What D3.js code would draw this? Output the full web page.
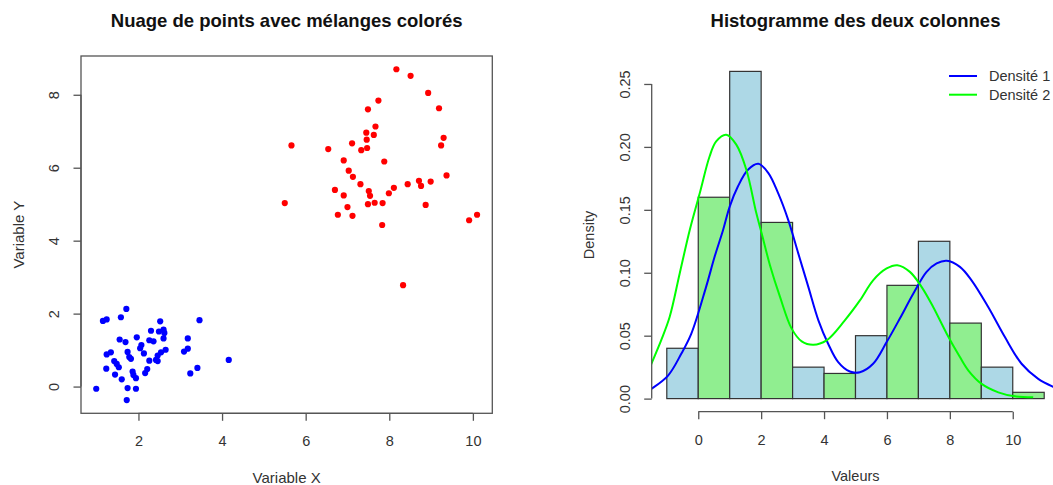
<!DOCTYPE html>
<html><head><meta charset="utf-8">
<script src="https://cdn.jsdelivr.net/npm/d3@7"></script>
<style>
html,body{margin:0;padding:0;background:#fff;}
svg{display:block;font-family:"Liberation Sans",Arial,sans-serif;}
</style>
</head><body>
<svg id="chart" width="1053" height="485"></svg>
<script>
// ---------- Data: scatter ----------
const blueX = [0.99,1.15,1.24,1.71,1.58,2.52,3.46,2.30,2.49,2.60,2.62,2.60,1.96,1.55,1.69,2.26,2.36,2.07,2.04,3.18,3.18,3.09,2.65,2.54,2.46,2.13,1.74,1.34,1.24,1.78,1.82,1.42,1.48,1.53,2.26,2.42,2.46,4.16,1.23,2.21,2.16,1.44,1.86,1.88,1.94,1.60,3.41,3.24,1.74,1.94,1.72];
const blueY = [-0.06,1.80,1.84,2.13,1.90,1.79,1.82,1.53,1.51,1.56,1.47,1.32,1.35,1.29,1.22,1.27,1.24,1.14,1.05,1.32,1.04,0.96,1.01,0.94,0.85,0.91,0.95,0.94,0.88,0.81,0.76,0.70,0.62,0.53,0.71,0.73,0.70,0.73,0.49,0.48,0.37,0.33,0.41,0.32,0.23,0.20,0.51,0.36,-0.04,-0.06,-0.37];
const redX = [8.17,8.51,8.93,7.74,7.49,9.19,7.67,7.45,7.63,7.46,5.66,7.11,9.30,9.24,6.54,7.33,7.47,6.91,7.88,7.03,7.13,9.37,7.31,8.44,8.71,8.76,8.99,8.11,7.99,6.70,7.51,7.54,6.91,7.49,7.65,7.84,5.50,8.87,7.00,6.77,7.12,10.10,9.91,7.83,8.33];
const redY = [8.70,8.52,8.05,7.84,7.60,7.63,7.13,6.96,6.90,6.77,6.61,6.67,6.82,6.61,6.51,6.48,6.54,6.20,6.17,5.92,5.75,5.79,5.55,5.55,5.64,5.50,5.62,5.45,5.30,5.39,5.36,5.23,5.24,5.00,5.04,5.03,5.03,4.98,4.92,4.71,4.68,4.71,4.56,4.43,2.78];
const scatterXTicks = [2,4,6,8,10];
const scatterYTicks = [0,2,4,6,8];

// ---------- Data: histogram ----------
const binStart = [-1,0,1,2,3,4,5,6,7,8,9,10];
const binDensity = [0.04,0.16,0.26,0.14,0.025,0.02,0.05,0.09,0.125,0.06,0.025,0.005];
const binSeries = [1,2,1,2,1,2,1,2,1,2,1,2];
const histXTicks = [0,2,4,6,8,10];
const histYTicks = [0,0.05,0.10,0.15,0.20,0.25];
const histYTickLabels = ["0.00","0.05","0.10","0.15","0.20","0.25"];

const dens1X = [-1.60,-1.49,-0.96,-0.54,-0.22,0.25,0.52,0.79,1.00,1.26,1.58,1.91,2.23,2.54,2.86,3.18,3.50,3.82,4.13,4.45,4.82,5.14,5.56,5.99,6.41,6.84,7.26,7.58,7.90,8.32,8.69,9.22,9.75,10.28,10.81,11.27,11.60];
const dens1Y = [0.0060,0.0077,0.0183,0.0356,0.0516,0.0888,0.1127,0.1340,0.1526,0.1685,0.1818,0.1866,0.1792,0.1632,0.1420,0.1154,0.0888,0.0622,0.0436,0.0290,0.0215,0.0210,0.0277,0.0449,0.0636,0.0835,0.1007,0.1074,0.1095,0.1047,0.0940,0.0728,0.0489,0.0277,0.0157,0.0096,0.0065];
const dens2X = [-1.60,-1.49,-1.18,-0.91,-0.59,-0.27,0.045,0.36,0.57,0.89,1.21,1.53,1.84,2.02,2.28,2.60,2.97,3.29,3.66,4.08,4.66,5.14,5.56,5.99,6.33,6.73,7.10,7.47,7.90,8.32,8.59,9.01,9.54,10.07,10.65];
const dens2Y = [0.0210,0.0277,0.0463,0.0648,0.0994,0.1340,0.1630,0.1924,0.2044,0.2097,0.2018,0.1818,0.1480,0.1310,0.1060,0.0808,0.0556,0.0455,0.0428,0.0463,0.0622,0.0780,0.0940,0.1034,0.1060,0.1007,0.0888,0.0728,0.0516,0.0330,0.0223,0.0117,0.0050,0.0018,0.0010];

const legendLabels = ["Densité 1","Densité 2"];
const legendColors = ["#0000ff","#00ff00"];

// ---------- Drawing ----------
const svg = d3.select("#chart");
const FS = 14.5;
const TFS = 18.5;
const txt = "#333";

function pad(ext){ const r = ext[1]-ext[0]; return [ext[0]-0.04*r, ext[1]+0.04*r]; }

// ===== Left: scatter =====
const L = {x0:81, x1:492.3, y0:56, y1:413.3};
const allX = blueX.concat(redX), allY = blueY.concat(redY);
const sx = d3.scaleLinear().domain(pad(d3.extent(allX))).range([L.x0, L.x1]);
const sy = d3.scaleLinear().domain(pad(d3.extent(allY))).range([L.y1, L.y0]);

const gL = svg.append("g");
const ptsB = blueX.map((x,i)=>({x, y:blueY[i]}));
const ptsR = redX.map((x,i)=>({x, y:redY[i]}));
gL.selectAll("circle.b").data(ptsB).join("circle").attr("class","b")
  .attr("cx",d=>sx(d.x)).attr("cy",d=>sy(d.y)).attr("r",3.1).attr("fill","#0000ff");
gL.selectAll("circle.r").data(ptsR).join("circle").attr("class","r")
  .attr("cx",d=>sx(d.x)).attr("cy",d=>sy(d.y)).attr("r",3.1).attr("fill","#ff0000");
gL.append("rect").attr("x",L.x0).attr("y",L.y0).attr("width",L.x1-L.x0).attr("height",L.y1-L.y0)
  .attr("fill","none").attr("stroke","#555").attr("stroke-width",1.3);

// x axis
const axL = gL.append("g").attr("transform",`translate(0,${L.y1})`)
  .call(d3.axisBottom(sx).tickValues(scatterXTicks).tickSize(7.5).tickSizeOuter(0).tickFormat(d3.format("d")));
axL.select(".domain").attr("stroke","#555").attr("stroke-width",1.3)
  .attr("d",`M${sx(scatterXTicks[0])},0H${sx(scatterXTicks[scatterXTicks.length-1])}`);
axL.selectAll(".tick line").attr("stroke","#555").attr("stroke-width",1.3);
axL.selectAll(".tick text").attr("font-size",FS).attr("fill",txt).attr("font-family","Liberation Sans, Arial").attr("dy",null).attr("y",33);
// y axis
const ayL = gL.append("g").attr("transform",`translate(${L.x0},0)`)
  .call(d3.axisLeft(sy).tickValues(scatterYTicks).tickSize(7.5).tickSizeOuter(0).tickFormat(d3.format("d")));
ayL.select(".domain").attr("stroke","#555").attr("stroke-width",1.3)
  .attr("d",`M0,${sy(scatterYTicks[0])}V${sy(scatterYTicks[scatterYTicks.length-1])}`);
ayL.selectAll(".tick line").attr("stroke","#555").attr("stroke-width",1.3);
ayL.selectAll(".tick text").attr("font-size",FS).attr("fill",txt).attr("font-family","Liberation Sans, Arial")
  .attr("x",null).attr("dy",null).attr("text-anchor","middle").attr("transform","translate(-22,0) rotate(-90)");

gL.append("text").attr("x",(L.x0+L.x1)/2).attr("y",26.5).attr("text-anchor","middle")
  .attr("font-size",TFS).attr("font-weight","bold").attr("fill","#111").text("Nuage de points avec mélanges colorés");
gL.append("text").attr("x",(L.x0+L.x1)/2).attr("y",L.y1+69.5).attr("text-anchor","middle")
  .attr("font-size",15).attr("fill",txt).text("Variable X");
gL.append("text").attr("transform",`translate(${L.x0-57.5},${(L.y0+L.y1)/2}) rotate(-90)`).attr("text-anchor","middle")
  .attr("font-size",15).attr("fill",txt).text("Variable Y");

// ===== Right: histogram =====
const R = {x0:651.7, x1:1059.3, y0:58.3, y1:411.7};
const hx = d3.scaleLinear().domain(pad([binStart[0], binStart[binStart.length-1]+1])).range([R.x0, R.x1]);
const hy = d3.scaleLinear().domain(pad([0, 0.26])).range([R.y1, R.y0]);
const gR = svg.append("g");
svg.append("defs").append("clipPath").attr("id","clipR").append("rect")
  .attr("x",R.x0).attr("y",R.y0).attr("width",R.x1-R.x0).attr("height",R.y1-R.y0);

const bars = binStart.map((b,i)=>({b, d:binDensity[i], s:binSeries[i]}));
gR.selectAll("rect.bar").data(bars).join("rect").attr("class","bar")
  .attr("x",d=>hx(d.b)).attr("width",d=>hx(d.b+1)-hx(d.b))
  .attr("y",d=>hy(d.d)).attr("height",d=>hy(0)-hy(d.d))
  .attr("fill",d=>d.s===1?"#add8e6":"#90ee90").attr("stroke","#333").attr("stroke-width",1.2);

const line = d3.line().x(d=>hx(d[0])).y(d=>hy(d[1])).curve(d3.curveCatmullRom.alpha(0.5));
const gC = gR.append("g").attr("clip-path","url(#clipR)");
gC.append("path").datum(dens1X.map((x,i)=>[x,dens1Y[i]])).attr("d",line)
  .attr("fill","none").attr("stroke","#0000ff").attr("stroke-width",2);
gC.append("path").datum(dens2X.map((x,i)=>[x,dens2Y[i]])).attr("d",line)
  .attr("fill","none").attr("stroke","#00ff00").attr("stroke-width",2);

// axes
const axR = gR.append("g").attr("transform",`translate(0,${R.y1})`)
  .call(d3.axisBottom(hx).tickValues(histXTicks).tickSize(7.5).tickSizeOuter(0).tickFormat(d3.format("d")));
axR.select(".domain").attr("stroke","#555").attr("stroke-width",1.3)
  .attr("d",`M${hx(histXTicks[0])},0H${hx(histXTicks[histXTicks.length-1])}`);
axR.selectAll(".tick line").attr("stroke","#555").attr("stroke-width",1.3);
axR.selectAll(".tick text").attr("font-size",FS).attr("fill",txt).attr("font-family","Liberation Sans, Arial").attr("dy",null).attr("y",33);
const ayR = gR.append("g").attr("transform",`translate(${R.x0},0)`)
  .call(d3.axisLeft(hy).tickValues(histYTicks).tickSize(7.5).tickSizeOuter(0).tickFormat((d,i)=>histYTickLabels[i]));
ayR.select(".domain").attr("stroke","#555").attr("stroke-width",1.3)
  .attr("d",`M0,${hy(histYTicks[0])}V${hy(histYTicks[histYTicks.length-1])}`);
ayR.selectAll(".tick line").attr("stroke","#555").attr("stroke-width",1.3);
ayR.selectAll(".tick text").attr("font-size",FS).attr("fill",txt).attr("font-family","Liberation Sans, Arial")
  .attr("x",null).attr("dy",null).attr("text-anchor","middle").attr("transform","translate(-22,0) rotate(-90)");

gR.append("text").attr("x",(R.x0+R.x1)/2).attr("y",26.5).attr("text-anchor","middle")
  .attr("font-size",TFS).attr("font-weight","bold").attr("fill","#111").text("Histogramme des deux colonnes");
gR.append("text").attr("x",(R.x0+R.x1)/2).attr("y",R.y1+69).attr("text-anchor","middle")
  .attr("font-size",FS).attr("fill",txt).text("Valeurs");
gR.append("text").attr("transform",`translate(${R.x0-57.5},${(R.y0+R.y1)/2}) rotate(-90)`).attr("text-anchor","middle")
  .attr("font-size",FS).attr("fill",txt).text("Density");

// legend
const lg = gR.append("g");
legendLabels.forEach((lab,i)=>{
  const y = 76 + i*18.7;
  lg.append("line").attr("x1",949).attr("x2",977).attr("y1",y).attr("y2",y)
    .attr("stroke",legendColors[i]).attr("stroke-width",2);
  lg.append("text").attr("x",989).attr("y",y+5).attr("font-size",FS).attr("fill",txt).text(lab);
});
</script>
</body></html>
